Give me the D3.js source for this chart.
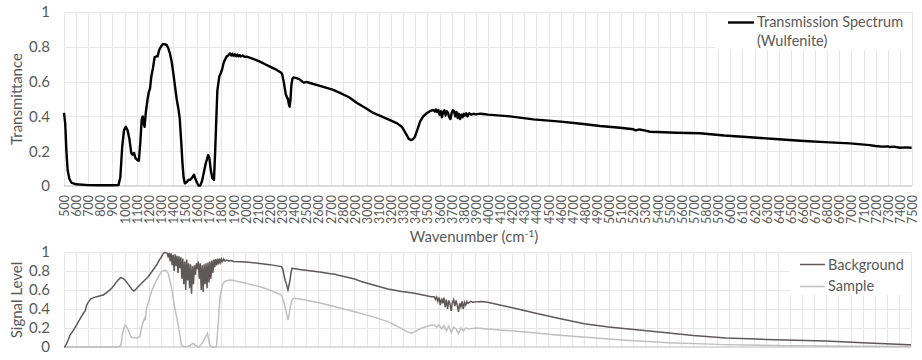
<!DOCTYPE html>
<html><head><meta charset="utf-8">
<script src="https://cdn.jsdelivr.net/npm/d3@7"></script>
<style>
html,body{margin:0;padding:0;background:#fff;}
svg{display:block;font-family:Lato,"Open Sans",sans-serif;}
</style></head>
<body><svg id="chart" width="922" height="360"></svg>
<script>
// ---------- DATA ----------
const xTicks = [500,600,700,800,900,1000,1100,1200,1300,1400,1500,1600,1700,1800,1900,2000,2100,2200,2300,2400,2500,2600,2700,2800,2900,3000,3100,3200,3300,3400,3500,3600,3700,3800,3900,4000,4100,4200,4300,4400,4500,4600,4700,4800,4900,5000,5100,5200,5300,5400,5500,5600,5700,5800,5900,6000,6100,6200,6300,6400,6500,6600,6700,6800,6900,7000,7100,7200,7300,7400,7500];
const yTicks = [0,0.2,0.4,0.6,0.8,1];
const yTickLabels = ["0","0.2","0.4","0.6","0.8","1"];

const transWn = [500,510,520,530,545,560,600,700,800,900,950,965,980,995,1010,1025,1040,1055,1065,1078,1090,1105,1118,1130,1141,1150,1158,1165,1175,1188,1200,1210,1221,1235,1248,1262,1273,1285,1300,1315,1330,1348,1362,1375,1390,1402,1415,1430,1445,1455,1468,1478,1487,1497,1510,1526,1540,1555,1573,1585,1597,1610,1625,1640,1655,1670,1690,1700,1712,1725,1738,1748,1755,1766,1782,1795,1805,1815,1821,1832,1843,1855,1870,1880,1890,1900,1910,1920,1930,1940,1950,1960,1975,1990,2008,2050,2118,2160,2200,2256,2290,2300,2316,2330,2340,2349,2356,2363,2370,2377,2385,2393,2420,2448,2470,2481,2503,2530,2613,2723,2778,2853,2916,2985,3053,3120,3191,3250,3288,3310,3329,3345,3362,3380,3397,3420,3439,3465,3494,3520,3549,3560,3570,3580,3590,3600,3610,3620,3630,3640,3650,3660,3670,3680,3690,3700,3710,3720,3730,3740,3750,3760,3770,3780,3790,3800,3810,3820,3830,3845,3860,3880,3900,3934,3960,4000,4182,4374,4600,4787,4925,5090,5200,5220,5250,5300,5337,5400,5550,5750,5950,6163,6370,6576,6780,6988,7150,7200,7250,7300,7319,7350,7400,7450,7497];
const transVal = [0.42,0.36,0.2,0.09,0.04,0.02,0.01,0.005,0.004,0.004,0.005,0.05,0.22,0.32,0.34,0.32,0.27,0.19,0.18,0.19,0.16,0.15,0.145,0.25,0.38,0.40,0.36,0.34,0.42,0.49,0.54,0.56,0.63,0.68,0.74,0.745,0.745,0.78,0.80,0.815,0.815,0.81,0.79,0.76,0.71,0.65,0.58,0.50,0.44,0.39,0.25,0.13,0.05,0.015,0.02,0.035,0.035,0.045,0.065,0.04,0.02,0.003,0.002,0.03,0.08,0.13,0.178,0.16,0.09,0.045,0.035,0.2,0.34,0.55,0.63,0.65,0.67,0.70,0.715,0.73,0.745,0.75,0.762,0.75,0.76,0.748,0.757,0.746,0.755,0.745,0.752,0.744,0.75,0.742,0.743,0.733,0.715,0.70,0.686,0.667,0.652,0.645,0.59,0.53,0.51,0.50,0.47,0.456,0.5,0.58,0.615,0.624,0.62,0.612,0.598,0.594,0.598,0.592,0.575,0.552,0.535,0.51,0.479,0.45,0.42,0.40,0.379,0.36,0.341,0.315,0.293,0.272,0.264,0.268,0.283,0.33,0.37,0.40,0.418,0.43,0.437,0.428,0.44,0.425,0.436,0.41,0.43,0.395,0.425,0.435,0.405,0.43,0.42,0.395,0.385,0.42,0.435,0.43,0.40,0.425,0.39,0.415,0.385,0.41,0.395,0.415,0.405,0.418,0.40,0.418,0.41,0.415,0.412,0.416,0.414,0.41,0.40,0.383,0.37,0.356,0.345,0.335,0.326,0.32,0.325,0.318,0.312,0.31,0.306,0.303,0.29,0.28,0.27,0.26,0.252,0.245,0.235,0.23,0.226,0.228,0.224,0.226,0.22,0.222,0.22];

const bgWn = [500,510,530,550,580,605,630,660,675,687,700,720,745,770,800,825,860,894,915,935,955,968,985,1004,1025,1045,1062,1078,1100,1127,1160,1196,1230,1265,1290,1306,1320,1334,1345,1355,1362,1370,1378,1386,1394,1402,1410,1418,1426,1434,1442,1450,1458,1466,1474,1482,1490,1498,1506,1514,1522,1530,1538,1546,1554,1562,1570,1578,1586,1594,1602,1610,1618,1626,1634,1642,1650,1658,1666,1674,1682,1690,1698,1706,1714,1722,1730,1738,1746,1754,1762,1770,1778,1786,1794,1802,1810,1820,1830,1843,1860,1880,1900,2000,2118,2200,2297,2308,2318,2328,2337,2344,2351,2358,2368,2376,2384,2450,2627,2700,2740,2760,2902,2957,3050,3177,3290,3397,3535,3560,3570,3580,3590,3600,3610,3620,3630,3640,3650,3660,3670,3680,3690,3700,3710,3720,3730,3740,3750,3760,3770,3780,3790,3800,3810,3820,3830,3840,3860,3880,3900,3948,4000,4223,4400,4594,4800,5000,5145,5400,5700,5970,6300,6795,7100,7483,7500];
const bgVal = [0.0,0.005,0.06,0.126,0.18,0.232,0.29,0.355,0.38,0.44,0.47,0.505,0.52,0.53,0.54,0.548,0.58,0.618,0.65,0.688,0.715,0.73,0.725,0.705,0.67,0.635,0.605,0.59,0.615,0.653,0.695,0.74,0.8,0.863,0.92,0.95,0.985,0.997,0.99,0.985,0.94,0.99,0.90,0.985,0.86,0.97,0.80,0.975,0.85,0.96,0.78,0.955,0.83,0.945,0.72,0.93,0.66,0.90,0.60,0.92,0.70,0.88,0.62,0.87,0.56,0.85,0.66,0.86,0.76,0.88,0.82,0.90,0.72,0.88,0.60,0.86,0.58,0.87,0.66,0.88,0.62,0.89,0.68,0.90,0.72,0.91,0.78,0.92,0.84,0.925,0.86,0.93,0.87,0.93,0.89,0.925,0.90,0.925,0.905,0.915,0.905,0.91,0.90,0.895,0.88,0.867,0.846,0.82,0.758,0.70,0.67,0.63,0.60,0.64,0.705,0.78,0.828,0.815,0.786,0.77,0.765,0.757,0.716,0.69,0.655,0.61,0.585,0.565,0.53,0.53,0.50,0.525,0.48,0.52,0.44,0.51,0.46,0.52,0.42,0.50,0.40,0.49,0.45,0.38,0.47,0.50,0.43,0.49,0.44,0.37,0.46,0.42,0.48,0.40,0.47,0.44,0.48,0.46,0.48,0.47,0.475,0.478,0.472,0.407,0.355,0.30,0.245,0.21,0.193,0.16,0.12,0.095,0.08,0.063,0.045,0.025,0.025];

const smpWn = [500,950,970,985,1004,1018,1031,1045,1058,1080,1100,1115,1127,1140,1155,1165,1170,1182,1200,1223,1245,1265,1285,1306,1320,1334,1348,1361,1375,1389,1402,1416,1430,1444,1458,1471,1485,1520,1545,1568,1585,1609,1630,1650,1664,1676,1686,1695,1705,1720,1760,1775,1788,1800,1815,1830,1850,1870,1900,2008,2077,2118,2200,2297,2310,2324,2338,2351,2360,2368,2380,2393,2450,2627,2902,3050,3177,3287,3330,3370,3410,3453,3535,3560,3580,3600,3620,3640,3660,3680,3700,3720,3740,3760,3780,3800,3820,3850,3900,3948,3961,4223,4594,5145,5500,5970,6500,7000,7500];
const smpVal = [0,0,0.02,0.15,0.232,0.21,0.18,0.13,0.10,0.10,0.095,0.10,0.11,0.20,0.267,0.30,0.28,0.407,0.48,0.583,0.65,0.705,0.75,0.794,0.80,0.81,0.80,0.776,0.70,0.618,0.52,0.407,0.32,0.232,0.12,0.02,0.002,0.005,0.02,0.04,0.02,0.0,0.02,0.06,0.09,0.12,0.145,0.08,0.02,0.0,0.0,0.25,0.51,0.60,0.67,0.69,0.70,0.705,0.70,0.67,0.646,0.635,0.60,0.548,0.50,0.44,0.36,0.284,0.34,0.40,0.48,0.513,0.505,0.46,0.372,0.32,0.267,0.197,0.165,0.144,0.17,0.197,0.232,0.23,0.21,0.232,0.19,0.225,0.17,0.22,0.15,0.21,0.19,0.14,0.20,0.17,0.20,0.19,0.20,0.197,0.193,0.168,0.123,0.07,0.045,0.025,0.012,0.008,0.005];

// ---------- DRAW ----------
const svg = d3.select("#chart");
svg.append("rect").attr("width",922).attr("height",360).attr("fill","#fff");
const textColor = "#595959";
const gridColor = "#e6e6e6";

function panel(top, bottom, left, right) {
  const x = d3.scaleLinear().domain([500,7500]).range([left,right]);
  const y = d3.scaleLinear().domain([0,1]).range([bottom,top]);
  const g = svg.append("g");
  // vertical gridlines
  g.selectAll(".vg").data(xTicks).enter().append("line")
    .attr("x1",d=>Math.round(x(d))+0.5).attr("x2",d=>Math.round(x(d))+0.5)
    .attr("y1",top).attr("y2",bottom).attr("stroke",gridColor).attr("stroke-width",1);
  // horizontal gridlines
  g.selectAll(".hg").data(yTicks.filter(d=>d>0)).enter().append("line")
    .attr("x1",left).attr("x2",right)
    .attr("y1",d=>Math.round(y(d))+0.5).attr("y2",d=>Math.round(y(d))+0.5)
    .attr("stroke",gridColor).attr("stroke-width",1);
  // baseline
  g.append("line").attr("x1",left).attr("x2",right)
    .attr("y1",y(0)).attr("y2",y(0)).attr("stroke","#d0d0d0").attr("stroke-width",1.5);
  // y tick labels
  const ya = d3.axisLeft(y).tickValues(yTicks).tickSize(0).tickPadding(0)
    .tickFormat((d,i)=>yTickLabels[i]);
  const yg = svg.append("g").attr("transform",`translate(${left-14},0)`).call(ya);
  yg.select(".domain").remove();
  yg.selectAll("text").attr("fill",textColor).style("font-size","15px").style("font-family","Lato, sans-serif");
  return {x,y};
}

// Top panel
const P1 = panel(12, 186, 64, 912);
const line1 = d3.line().x((d,i)=>P1.x(transWn[i])).y(d=>P1.y(d));
svg.append("path").attr("d",line1(transVal)).attr("fill","none")
  .attr("stroke","#000").attr("stroke-width",2.4).attr("stroke-linejoin","round");

// x tick labels (rotated)
const xa = d3.axisBottom(P1.x).tickValues(xTicks).tickSize(0).tickPadding(0).tickFormat(d=>String(d));
const xg = svg.append("g").attr("transform","translate(0,195)").call(xa);
xg.select(".domain").remove();
xg.selectAll("text").attr("fill",textColor).style("font-size","12.5px").style("font-family","Lato, sans-serif")
  .attr("transform","rotate(-90)").attr("text-anchor","end").attr("x",0).attr("y",0).attr("dy","0.36em");

// Axis titles
svg.append("text").attr("transform","translate(22,99) rotate(-90)").attr("text-anchor","middle")
  .attr("fill",textColor).style("font-size","15px").text("Transmittance");
const wt = svg.append("text").attr("x",474).attr("y",242).attr("text-anchor","middle")
  .attr("fill",textColor).style("font-size","15px");
wt.append("tspan").text("Wavenumber (cm");
wt.append("tspan").attr("dy",-5).style("font-size","10px").text("-1");
wt.append("tspan").attr("dy",5).text(")");

// Top legend
svg.append("rect").attr("x",715).attr("y",13).attr("width",197).attr("height",37).attr("fill","#fff");
svg.append("line").attr("x1",728).attr("x2",754).attr("y1",22.5).attr("y2",22.5).attr("stroke","#000").attr("stroke-width",2.4);
svg.append("text").attr("x",757).attr("y",27).attr("fill",textColor).style("font-size","14.5px").text("Transmission Spectrum");
svg.append("text").attr("x",757).attr("y",46).attr("fill",textColor).style("font-size","14.5px").text("(Wulfenite)");

// Bottom panel
const P2 = panel(252, 347, 64, 911);
const lineB = d3.line().x((d,i)=>P2.x(bgWn[i])).y(d=>P2.y(d));
const lineS = d3.line().x((d,i)=>P2.x(smpWn[i])).y(d=>P2.y(d));
svg.append("path").attr("d",lineS(smpVal)).attr("fill","none").attr("stroke","#bfbfbf").attr("stroke-width",1.5);
svg.append("path").attr("d",lineB(bgVal)).attr("fill","none").attr("stroke","#5e5858").attr("stroke-width",1.5);

svg.append("text").attr("transform","translate(22,300) rotate(-90)").attr("text-anchor","middle")
  .attr("fill",textColor).style("font-size","15px").text("Signal Level");

// Bottom legend
svg.append("rect").attr("x",790).attr("y",253).attr("width",121).attr("height",42).attr("fill","#fff");
svg.append("line").attr("x1",800).attr("x2",825).attr("y1",264.5).attr("y2",264.5).attr("stroke","#5e5858").attr("stroke-width",1.5);
svg.append("text").attr("x",828).attr("y",270).attr("fill",textColor).style("font-size","14.5px").text("Background");
svg.append("line").attr("x1",800).attr("x2",825).attr("y1",286.5).attr("y2",286.5).attr("stroke","#bfbfbf").attr("stroke-width",1.5);
svg.append("text").attr("x",828).attr("y",291).attr("fill",textColor).style("font-size","14.5px").text("Sample");
</script></body></html>
